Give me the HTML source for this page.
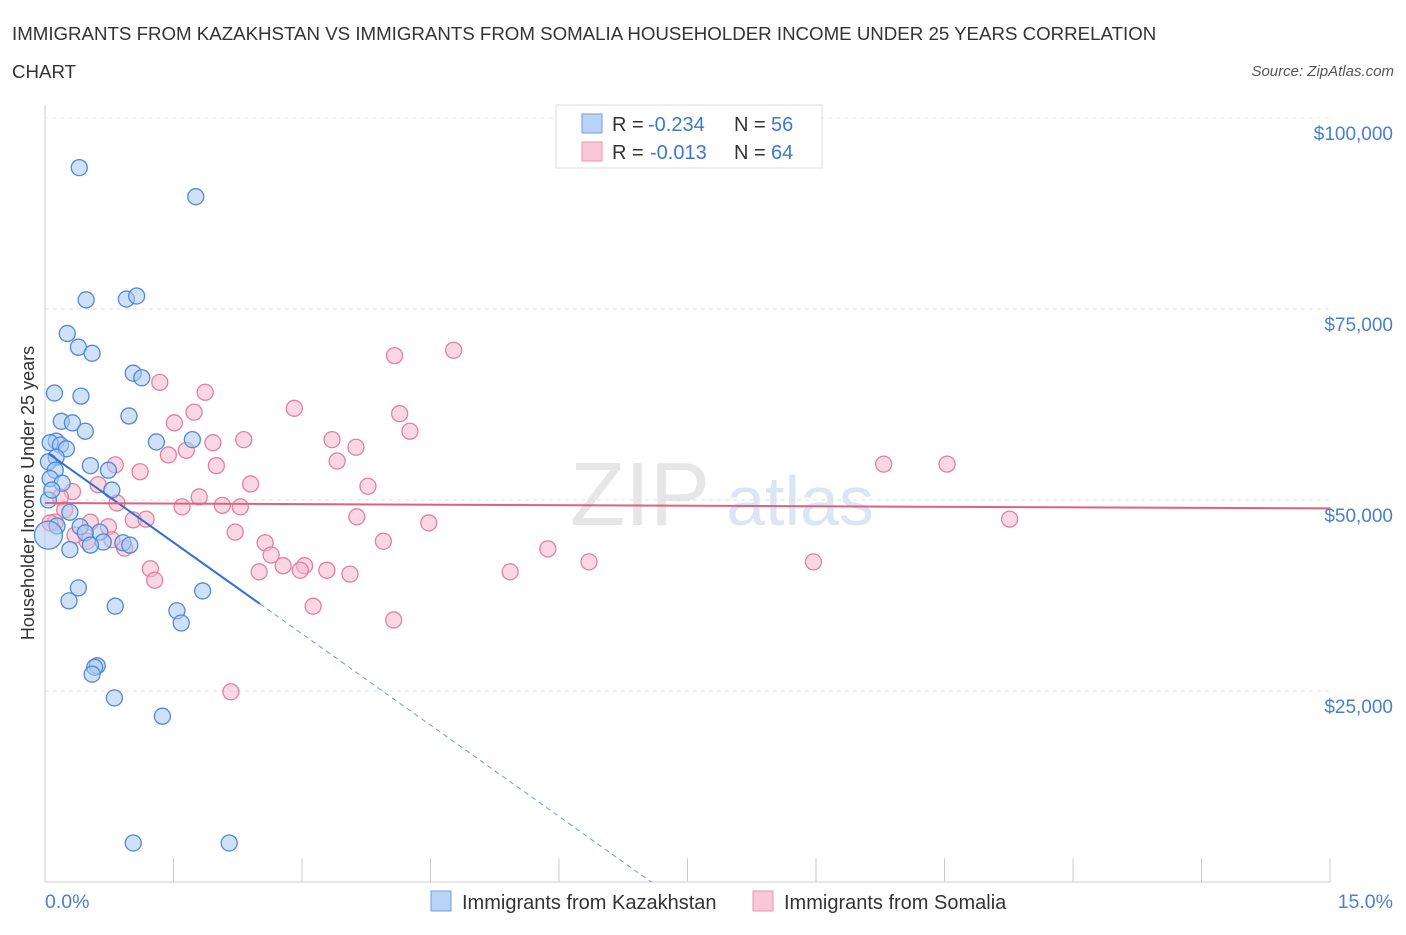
<!DOCTYPE html>
<html><head><meta charset="utf-8"><style>
body{margin:0;background:#fff;font-family:"Liberation Sans",sans-serif;}
svg text{font-family:"Liberation Sans",sans-serif;}
</style></head><body>
<svg id="c" width="1406" height="930" xmlns="http://www.w3.org/2000/svg">
<text x="12" y="40" font-size="18.7" fill="#333">IMMIGRANTS FROM KAZAKHSTAN VS IMMIGRANTS FROM SOMALIA HOUSEHOLDER INCOME UNDER 25 YEARS CORRELATION</text>
<text x="12" y="78" font-size="18.7" fill="#333">CHART</text>
<text x="1394" y="76" font-size="15" fill="#555" font-style="italic" text-anchor="end">Source: ZipAtlas.com</text>
<text x="640" y="525" font-size="90" fill="#e6e6e6" font-family="Liberation Serif" text-anchor="middle">ZIP</text>
<text x="800" y="525" font-size="70" fill="#dbe6f5" text-anchor="middle">atlas</text>
<g id="grid"></g>
<g id="marks"></g>
<text transform="translate(34,493) rotate(-90)" font-size="18" fill="#333" text-anchor="middle">Householder Income Under 25 years</text>
<text x="45" y="908" font-size="19.5" fill="#4a7fd0">0.0%</text>
<text x="1393" y="908" font-size="19.5" fill="#4a7fd0" text-anchor="end">15.0%</text>
<g>
<rect x="556" y="105" width="266" height="63" fill="#fff" stroke="#ddd"/>
<rect x="582" y="114" width="20" height="19" fill="#b9d3f5" stroke="#6e9ee0"/>
<rect x="582" y="142" width="20" height="19" fill="#f9c8d8" stroke="#e895ae"/>
<text x="612" y="131" font-size="20" fill="#333">R =</text>
<text x="648" y="131" font-size="20" fill="#3d78d0">-0.234</text>
<text x="734" y="131" font-size="20" fill="#333">N =</text>
<text x="771" y="131" font-size="20" fill="#3d78d0">56</text>
<text x="612" y="159" font-size="20" fill="#333">R =</text>
<text x="650" y="159" font-size="20" fill="#3d78d0">-0.013</text>
<text x="734" y="159" font-size="20" fill="#333">N =</text>
<text x="771" y="159" font-size="20" fill="#3d78d0">64</text>
</g>
<g>
<rect x="431" y="891" width="20" height="20" fill="#b9d3f5" stroke="#6e9ee0"/>
<text x="462" y="909" font-size="20" fill="#333">Immigrants from Kazakhstan</text>
<rect x="753" y="891" width="20" height="20" fill="#f9c8d8" stroke="#e895ae"/>
<text x="784" y="909" font-size="20" fill="#333">Immigrants from Somalia</text>
</g>
</svg>
<script>
const yTicks=[25000,50000,75000,100000];
const yTickLabels=["$25,000","$50,000","$75,000","$100,000"];
const xTicks=[0,1.5,3,4.5,6,7.5,9,10.5,12,13.5,15];
const kazX=[0.40,1.76,0.48,0.95,1.07,0.26,0.39,0.55,1.03,1.13,0.11,0.42,0.98,0.19,0.32,0.47,0.13,0.06,0.18,0.25,0.13,0.04,0.12,0.53,0.74,0.06,0.20,0.78,0.29,0.41,0.14,0.64,0.68,0.91,0.29,0.39,0.28,0.82,1.54,1.59,1.84,0.61,0.58,0.55,0.81,1.37,1.03,2.15,0.04,1.30,1.72,0.04,0.08,0.47,0.53,0.99];
const kazY=[93.5,89.7,76.2,76.3,76.7,71.8,70.0,69.2,66.6,66.0,64.0,63.6,61.0,60.3,60.1,59.0,57.7,57.5,57.2,56.7,55.6,55.0,53.9,54.5,53.9,52.8,52.2,51.3,48.4,46.5,46.6,45.8,44.5,44.4,43.5,38.5,36.8,36.1,35.5,33.9,38.1,28.3,28.1,27.2,24.1,21.7,5.1,5.1,45.4,57.6,57.9,50.0,51.3,45.7,44.1,44.1];
const somX=[4.77,4.08,1.34,1.87,1.74,2.91,4.14,4.26,1.51,1.96,2.32,3.35,3.63,1.44,1.65,2.00,3.41,0.82,1.11,2.40,3.77,9.79,10.53,0.62,0.32,0.18,0.84,1.80,1.60,2.07,2.28,3.64,4.48,11.26,1.03,1.18,0.23,0.12,0.53,0.74,2.22,2.57,3.95,5.87,0.93,0.49,2.64,2.78,3.03,2.98,3.29,3.56,2.50,1.23,1.28,5.43,6.35,8.97,3.13,4.07,2.17,0.06,0.35,0.78];
const somY=[69.6,68.9,65.4,64.1,61.5,62.0,61.3,59.0,60.1,57.5,57.9,57.9,56.9,55.9,56.5,54.5,55.1,54.6,53.7,52.1,51.8,54.7,54.7,52.0,51.1,50.4,49.6,50.4,49.1,49.3,49.1,47.8,47.0,47.5,47.4,47.5,48.7,47.1,47.1,46.5,45.8,44.4,44.6,43.6,43.7,44.6,42.8,41.4,41.4,40.8,40.8,40.3,40.6,41.0,39.5,40.6,41.9,41.9,36.1,34.3,24.9,47.0,45.4,44.8];
const kazTrend=[56.4,-7.97]; const kazSolidEnd=2.51;
const somTrend=[49.6,48.9];
const NS="http://www.w3.org/2000/svg";
const X=v=>45+v/15*1285, Y=v=>882-v/100000*764;
function mk(t,a,p){const e=document.createElementNS(NS,t);for(const k in a)e.setAttribute(k,a[k]);p.appendChild(e);return e;}
const g=document.getElementById('grid'),m=document.getElementById('marks');
const ax=mk('line',{x1:45,y1:105,x2:45,y2:882,stroke:'#ccc'},g);


const bx=mk('line',{x1:45,y1:882,x2:1330,y2:882,stroke:'#ccc'},g);


yTicks.forEach((t,i)=>{
 const l=mk('line',{x1:45,x2:1330,y1:Y(t),y2:Y(t),stroke:'#ddd','stroke-dasharray':'4,4'},g);
 
 
 const tx=mk('text',{x:1393,y:Y(t)+22,'font-size':19,fill:'#4a7fd0','text-anchor':'end'},g);tx.textContent=yTickLabels[i];
 
 
});
const topLine=mk('line',{x1:45,x2:1330,y1:118,y2:118,stroke:'#eee','stroke-dasharray':'4,4'},g);


xTicks.forEach(t=>{const l=mk('line',{x1:X(t),x2:X(t),y1:858,y2:882,stroke:'#ccc'},g);
 
 });
function pts(xs,ys,fill,stroke,name){xs.forEach((x,i)=>{const big=(name=='kaz-point'&&i==48);
 const c=mk('circle',{cx:X(x),cy:Y(ys[i]*1000),r:big?14:8,fill:fill,'fill-opacity':0.55,stroke:stroke,'stroke-width':1.3},m);
 
 });}
pts(somX,somY,'#f6b8cc','#e57f9f','somalia-point');
pts(kazX,kazY,'#a9c8f0','#4f8ad6','kaz-point');
const kz=x=>(kazTrend[0]+kazTrend[1]*x)*1000;
const t1=mk('line',{x1:X(0.04),y1:Y(kz(0.04)),x2:X(kazSolidEnd),y2:Y(kz(kazSolidEnd)),stroke:'#2f6fd6','stroke-width':2},m);


const x0=-kazTrend[0]/kazTrend[1];
const t2=mk('line',{x1:X(kazSolidEnd),y1:Y(kz(kazSolidEnd)),x2:X(x0),y2:Y(0),stroke:'#6f9be0','stroke-width':1,'stroke-dasharray':'5,4'},m);


const t3=mk('line',{x1:X(0),y1:Y(somTrend[0]*1000),x2:X(15),y2:Y(somTrend[1]*1000),stroke:'#e0607f','stroke-width':2},m);


</script>
</body></html>
